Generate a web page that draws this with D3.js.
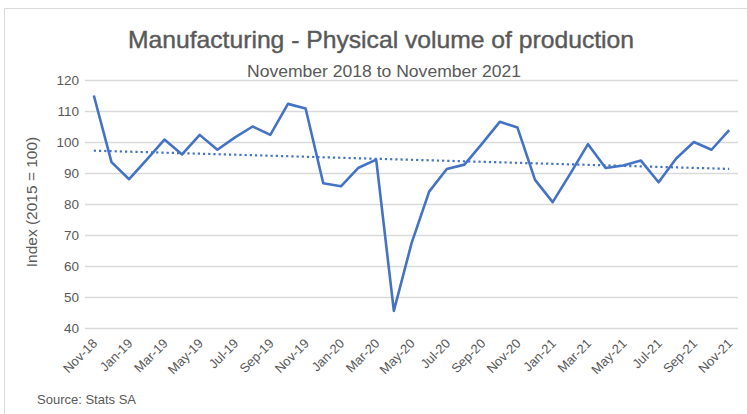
<!DOCTYPE html>
<html>
<head>
<meta charset="utf-8">
<script src="https://cdn.jsdelivr.net/npm/d3@7"></script>
<style>
  html, body { margin: 0; padding: 0; background: #fff; }
  svg { display: block; }
  text { font-family: "Liberation Sans", Arial, sans-serif; fill: #595959; }
</style>
</head>
<body>
<svg id="chart" width="747" height="414"></svg>
<script>
// Monthly index of physical volume of manufacturing production (2015 = 100)
const months = [
  "Nov-18","Dec-18","Jan-19","Feb-19","Mar-19","Apr-19","May-19","Jun-19","Jul-19","Aug-19","Sep-19","Oct-19",
  "Nov-19","Dec-19","Jan-20","Feb-20","Mar-20","Apr-20","May-20","Jun-20","Jul-20","Aug-20","Sep-20","Oct-20",
  "Nov-20","Dec-20","Jan-21","Feb-21","Mar-21","Apr-21","May-21","Jun-21","Jul-21","Aug-21","Sep-21","Oct-21",
  "Nov-21"
];
const indexValues = [
  115.0, 93.5, 88.0, 94.3, 100.8, 96.0, 102.3, 97.5, 101.5, 105.0, 102.3, 112.3,
  110.8, 86.7, 85.7, 91.7, 94.3, 45.5, 67.3, 84.0, 91.3, 92.7, 99.5, 106.5,
  104.7, 87.8, 80.6, 89.8, 99.3, 91.6, 92.4, 94.0, 87.0, 94.7, 100.0, 97.5,
  103.8
];
const yTicks = [40, 50, 60, 70, 80, 90, 100, 110, 120];

const svg = d3.select("#chart");
const W = 747, H = 414;
const plot = { left: 85, right: 738, top: 80, bottom: 328 };

// Frame around the chart area
svg.append("path")
  .attr("d", `M4.5,${H} L4.5,8.5 L${W},8.5`)
  .attr("fill", "none")
  .attr("stroke", "#d9d9d9")
  .attr("stroke-width", 1);

const x = d3.scaleBand().domain(months).range([plot.left, plot.right]).paddingInner(0).paddingOuter(0);
const cx = m => x(m) + x.bandwidth() / 2;
const y = d3.scaleLinear().domain([40, 120]).range([plot.bottom, plot.top]);

// Horizontal gridlines and value labels
const yAxis = d3.axisLeft(y).tickValues(yTicks).tickSize(-(plot.right - plot.left)).tickPadding(6);
const gy = svg.append("g").attr("transform", `translate(${plot.left},0)`).call(yAxis);
gy.select(".domain").remove();
gy.selectAll(".tick line").attr("stroke", "#d9d9d9").attr("stroke-width", 1.3);
gy.selectAll(".tick text").attr("font-size", 13.5).attr("fill", "#595959")
  .attr("font-family", "'Liberation Sans', Arial, sans-serif");

// Category labels, every second month, rotated
const gx = svg.append("g").attr("transform", `translate(0,${plot.bottom})`);
months.forEach((m, i) => {
  if (i % 2 !== 0) return;
  gx.append("text")
    .attr("transform", `translate(${cx(m) + 1},${13}) rotate(-45)`)
    .attr("text-anchor", "end")
    .attr("dy", "0.35em")
    .attr("font-size", 13)
    .text(m);
});

// Linear trend line (least squares over the series)
const n = indexValues.length;
const xs = d3.range(n);
const mx = d3.mean(xs), my = d3.mean(indexValues);
const slope = d3.sum(xs, i => (i - mx) * (indexValues[i] - my)) / d3.sum(xs, i => (i - mx) ** 2);
const intercept = my - slope * mx;
svg.append("line")
  .attr("x1", cx(months[0])).attr("y1", y(intercept))
  .attr("x2", cx(months[n - 1])).attr("y2", y(intercept + slope * (n - 1)))
  .attr("stroke", "#4472c4")
  .attr("stroke-width", 2.2)
  .attr("stroke-dasharray", "2.2,3")
  .attr("stroke-linecap", "butt");

// Index line
const line = d3.line().x((d, i) => cx(months[i])).y(d => y(d));
svg.append("path")
  .datum(indexValues)
  .attr("d", line)
  .attr("fill", "none")
  .attr("stroke", "#4472c4")
  .attr("stroke-width", 2.6)
  .attr("stroke-linejoin", "round");

// Titles
svg.append("text")
  .attr("x", 381).attr("y", 48)
  .attr("text-anchor", "middle")
  .attr("font-size", 24)
  .attr("stroke", "#595959").attr("stroke-width", 0.4)
  .attr("textLength", 506).attr("lengthAdjust", "spacingAndGlyphs")
  .text("Manufacturing - Physical volume of production");
svg.append("text")
  .attr("x", 384).attr("y", 77)
  .attr("text-anchor", "middle")
  .attr("font-size", 16)
  .attr("textLength", 274).attr("lengthAdjust", "spacingAndGlyphs")
  .text("November 2018 to November 2021");

// Axis title
svg.append("text")
  .attr("transform", `translate(37,${(plot.top + plot.bottom) / 2 - 2}) rotate(-90)`)
  .attr("text-anchor", "middle")
  .attr("font-size", 15.5)
  .text("Index (2015 = 100)");

// Source note
svg.append("text")
  .attr("x", 37).attr("y", 404)
  .attr("font-size", 13)
  .text("Source: Stats SA");
</script>
</body>
</html>
